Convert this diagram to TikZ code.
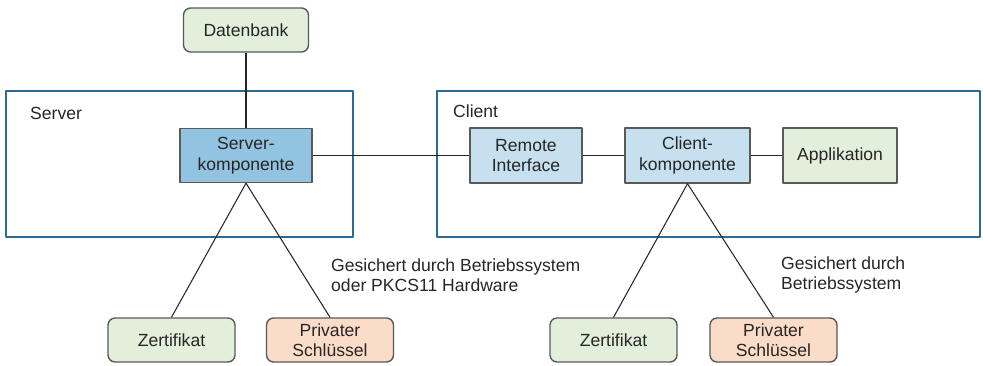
\documentclass[tikz,border=0pt]{standalone}
\usepackage{fontspec}
\setmainfont{Liberation Sans}
\definecolor{boxgreen}{HTML}{E2EFDA}
\definecolor{boxblue}{HTML}{C6E0EF}
\definecolor{boxdarkblue}{HTML}{92C3E0}
\definecolor{boxpeach}{HTML}{FBDCC8}
\definecolor{framecol}{HTML}{2B6B93}
\definecolor{textcol}{HTML}{262626}
\begin{document}
\begin{tikzpicture}[x=0.02cm, y=-0.02cm, font=\fontsize{10}{11.6}\selectfont, text=textcol, line join=round,
	comp/.style={draw=black!65, line width=0.8pt, align=center, inner sep=0pt, minimum height=1.1cm},
	store/.style={comp, rounded corners=4pt, minimum height=0.88cm, minimum width=2.54cm},
	link/.style={black!85, line width=0.6pt}]
		\useasboundingbox (0,0) rectangle (983,365);
		% Rahmen
		\draw[framecol, line width=0.6pt] (6,91) rectangle (353,237) (437,91) rectangle (980,237);
		\node[anchor=west] (srvlbl) at (24,113) {Server};
		\node[anchor=west] (clilbl) at (447,111) {Client};
		% Komponenten
		\node[store, fill=boxgreen, minimum width=2.5cm] (db) at (246,30) {Datenbank};
		\node[comp, fill=boxdarkblue, minimum width=2.64cm, minimum height=1.08cm] (srv) at (246,155.5) {Server-\\komponente};
		\node[comp, fill=boxblue, minimum width=2.24cm] (remote) at (526,155.5) {Remote\\Interface};
		\node[comp, fill=boxblue, minimum width=2.5cm] (cli) at (687.5,155.5) {Client-\\komponente};
		\node[comp, fill=boxgreen, minimum width=2.28cm] (app) at (840,155.5) {Applikation};
		\node[store, fill=boxgreen] (zertS) at (171.5,340) {Zertifikat};
		\node[store, fill=boxpeach] (keyS) at (330,340) {Privater\\Schlüssel};
		\node[store, fill=boxgreen] (zertC) at (613.5,340) {Zertifikat};
		\node[store, fill=boxpeach] (keyC) at (773.5,340) {Privater\\Schlüssel};
		% Hinweise
		\node[anchor=west, align=left] (noteS) at (325,275) {Gesichert durch Betriebssystem\\oder PKCS11 Hardware};
		\node[anchor=west, align=left] (noteC) at (775,275) {Gesichert durch\\Betriebssystem};
		% Verbindungen
		\draw[link] (db)--(srv) (srv)--(remote)--(cli)--(app);
		\foreach \x in {zertS,keyS}\draw[link] (srv.south)--(\x.north);
		\foreach \x in {zertC,keyC}\draw[link] (cli.south)--(\x.north);
\end{tikzpicture}
\end{document}
